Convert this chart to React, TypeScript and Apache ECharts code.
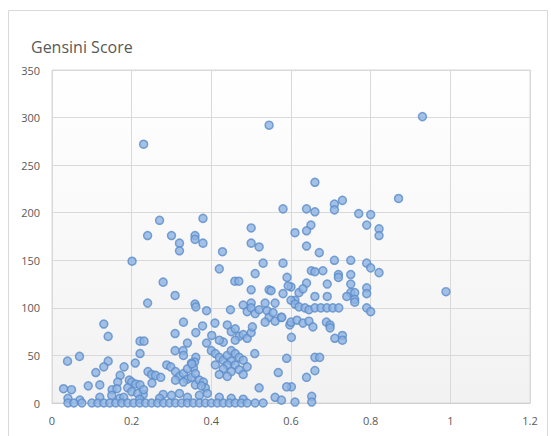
import React, { useEffect, useRef } from "react";
import * as echarts from "echarts";

const titleText = "Gensini Score";
const xTicks = [0, 0.2, 0.4, 0.6, 0.8, 1, 1.2];
const yTicks = [0, 50, 100, 150, 200, 250, 300, 350];

// upper region (score > 100)
const upperPoints: number[][] = [
  [0.230, 272], [0.545, 292], [0.930, 301], [0.270, 192], [0.379, 194], [0.240, 176], [0.300, 176],
  [0.320, 168], [0.320, 160], [0.359, 176], [0.359, 172], [0.379, 168], [0.500, 184], [0.500, 168],
  [0.520, 164], [0.428, 159], [0.530, 147], [0.201, 149], [0.420, 141], [0.510, 136], [0.279, 127],
  [0.459, 128], [0.469, 128], [0.309, 113], [0.500, 119], [0.545, 119], [0.240, 105], [0.359, 104],
  [0.500, 105], [0.660, 232], [0.870, 215], [0.580, 204], [0.639, 204], [0.660, 201], [0.709, 209],
  [0.709, 203], [0.729, 213], [0.770, 199], [0.800, 198], [0.790, 187], [0.821, 183], [0.821, 176],
  [0.650, 187], [0.639, 181], [0.610, 179], [0.639, 165], [0.671, 158], [0.580, 147], [0.709, 150],
  [0.750, 150], [0.790, 147], [0.800, 142], [0.821, 137], [0.651, 139], [0.660, 138], [0.680, 139],
  [0.590, 132], [0.719, 135], [0.719, 132], [0.750, 135], [0.600, 122], [0.639, 126], [0.550, 118],
  [0.580, 115], [0.620, 116], [0.630, 120], [0.691, 125], [0.750, 125], [0.790, 121], [0.790, 115],
  [0.750, 116], [0.760, 116], [0.660, 112], [0.691, 112], [0.740, 112], [0.760, 109], [0.610, 108],
  [0.560, 105], [0.989, 117], [0.593, 123],
];

// middle region (score 40 - 110)
const middlePoints: number[][] = [
  [0.361, 101], [0.388, 97], [0.448, 98], [0.48, 103], [0.49, 96], [0.50, 100], [0.51, 94], [0.52, 98],
  [0.535, 105], [0.54, 97], [0.545, 90], [0.555, 95], [0.56, 86], [0.575, 90], [0.60, 108], [0.61, 104],
  [0.62, 101], [0.635, 100], [0.645, 98], [0.66, 100], [0.675, 100], [0.69, 100], [0.705, 100],
  [0.72, 100], [0.76, 106], [0.79, 100], [0.80, 96], [0.597, 82], [0.60, 85], [0.615, 87], [0.63, 84],
  [0.645, 86], [0.655, 80], [0.689, 85], [0.698, 82], [0.698, 79], [0.71, 68], [0.729, 71], [0.729, 66],
  [0.601, 69], [0.66, 48], [0.672, 48], [0.130, 83], [0.141, 70], [0.330, 85], [0.309, 73], [0.361, 74],
  [0.378, 81], [0.409, 84], [0.401, 71], [0.388, 63], [0.221, 65], [0.231, 65], [0.221, 52], [0.209, 42],
  [0.340, 63], [0.309, 55], [0.329, 55], [0.330, 50], [0.361, 48], [0.44, 82], [0.45, 75], [0.46, 78],
  [0.47, 70], [0.48, 72], [0.49, 68], [0.50, 74], [0.503, 80], [0.46, 66], [0.43, 64], [0.42, 66],
  [0.535, 85], [0.577, 90], [0.509, 52], [0.589, 47],
];

// lower region (score < 60)
const lowerPoints: number[][] = [
  [0.40, 55], [0.41, 52], [0.42, 48], [0.43, 45], [0.44, 50], [0.45, 55], [0.46, 52], [0.47, 48],
  [0.45, 44], [0.44, 40], [0.46, 40], [0.48, 45], [0.49, 38], [0.47, 35], [0.45, 33], [0.43, 36],
  [0.42, 30], [0.44, 28], [0.48, 30], [0.41, 40], [0.358, 43], [0.35, 42], [0.355, 37], [0.288, 40],
  [0.298, 38], [0.31, 33], [0.32, 28], [0.33, 31], [0.34, 25], [0.35, 27], [0.36, 31], [0.33, 22],
  [0.36, 19], [0.37, 24], [0.38, 22], [0.385, 16], [0.375, 18], [0.31, 24], [0.34, 36], [0.351, 41],
  [0.039, 44], [0.069, 49], [0.141, 44], [0.130, 38], [0.110, 32], [0.181, 38], [0.171, 29], [0.165, 22],
  [0.194, 24], [0.20, 22], [0.21, 20], [0.221, 19], [0.241, 33], [0.25, 30], [0.26, 29], [0.273, 27],
  [0.029, 15], [0.049, 14], [0.091, 18], [0.120, 19], [0.151, 14], [0.163, 15], [0.251, 21], [0.279, 9],
  [0.229, 9], [0.19, 16], [0.20, 12], [0.215, 10], [0.23, 14], [0.66, 34], [0.639, 27], [0.601, 17],
  [0.652, 7], [0.568, 32], [0.589, 17], [0.52, 16],
];

// bottom rows (score near 0)
const bottomPoints: number[][] = [
  [0.04, 5], [0.07, 3], [0.12, 6], [0.15, 8], [0.17, 5], [0.18, 6], [0.22, 4], [0.27, 5], [0.30, 8],
  [0.32, 10], [0.34, 6], [0.37, 8], [0.39, 10], [0.42, 6], [0.45, 5], [0.48, 4], [0.56, 6], [0.576, 3],
  [0.04, 0], [0.055, 0], [0.075, 0], [0.10, 0], [0.115, 0], [0.13, 0], [0.145, 0], [0.16, 0], [0.175, 0],
  [0.19, 0], [0.205, 0], [0.22, 0], [0.235, 0], [0.25, 0], [0.265, 0], [0.28, 0], [0.295, 0], [0.31, 0],
  [0.325, 0], [0.34, 0], [0.355, 0], [0.37, 0], [0.385, 0], [0.40, 0], [0.415, 0], [0.43, 0], [0.445, 0],
  [0.46, 0], [0.475, 0], [0.49, 0], [0.51, 0], [0.53, 0], [0.61, 1], [0.652, 1],
];

export default function App() {
  const ref = useRef<HTMLDivElement>(null);
  useEffect(() => {
    if (!ref.current) return;
    const chart = echarts.init(ref.current, undefined, { renderer: "svg" });
    const data = [...upperPoints, ...middlePoints, ...lowerPoints, ...bottomPoints];
    chart.setOption({
      animation: false,
      backgroundColor: "#ffffff",
      title: {
        text: titleText,
        left: 26,
        top: 34,
        textStyle: { fontSize: 16, fontWeight: "normal", color: "#595959", fontFamily: "Open Sans" },
      },
      graphic: [
        {
          type: "rect",
          shape: { x: 8.5, y: 10.5, width: 539, height: 440 },
          style: { fill: "none", stroke: "#d9d9d9", lineWidth: 1 },
          silent: true,
        },
      ],
      grid: {
        left: 52,
        right: 21,
        top: 70,
        bottom: 33,
        show: true,
        borderColor: "#d9d9d9",
        borderWidth: 1,
        backgroundColor: new echarts.graphic.LinearGradient(0, 0, 0, 1, [
          { offset: 0, color: "#ffffff" },
          { offset: 1, color: "#f2f2f2" },
        ]),
      },
      xAxis: {
        type: "value",
        min: xTicks[0],
        max: xTicks[xTicks.length - 1],
        interval: 0.2,
        axisLine: { show: true, lineStyle: { color: "#d0d0d0" } },
        axisTick: { show: false },
        splitLine: { show: true, lineStyle: { color: "#d9d9d9" } },
        axisLabel: {
          color: "#595959",
          fontSize: 11,
          margin: 12,
          fontFamily: "Open Sans",
          formatter: (v: number) => String(+v.toFixed(1)),
        },
      },
      yAxis: {
        type: "value",
        min: yTicks[0],
        max: yTicks[yTicks.length - 1],
        interval: 50,
        axisLine: { show: false },
        axisTick: { show: false },
        splitLine: { show: true, lineStyle: { color: "#d9d9d9" } },
        axisLabel: { color: "#595959", fontSize: 11, margin: 12, fontFamily: "Open Sans" },
      },
      series: [
        {
          type: "scatter",
          data,
          symbol: "circle",
          symbolSize: 8,
          itemStyle: { color: "#8db3e2", borderColor: "#5b8cc9", borderWidth: 1.5 },
        },
      ],
    });
    return () => chart.dispose();
  }, []);
  return (
    <div
      ref={ref}
      style={{ position: "fixed", left: 0, top: 0, width: 551, height: 436 }}
    />
  );
}
